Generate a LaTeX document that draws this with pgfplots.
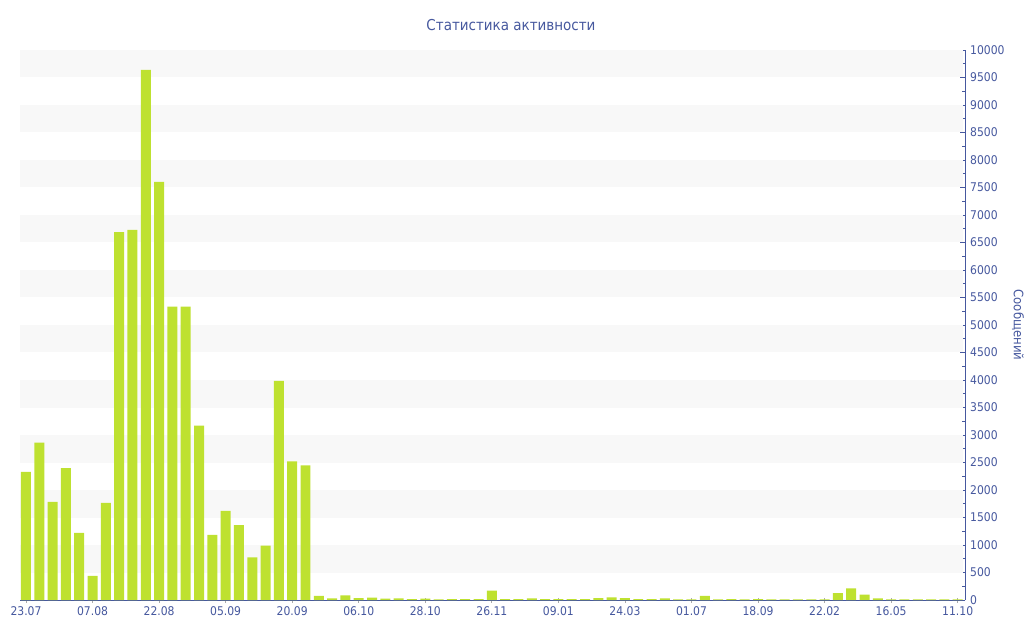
\documentclass[border=0pt]{standalone}
\usepackage{fontspec}
\setmainfont{DejaVu Sans Condensed}
\usepackage{pgfplots}
\pgfplotsset{compat=1.18}

\definecolor{barlime}{RGB}{190,225,48}
\definecolor{axisblue}{RGB}{70,88,158}
\definecolor{bandgray}{RGB}{248,248,248}
\definecolor{tickgray}{RGB}{170,170,170}

\begin{document}
\begin{tikzpicture}
    \useasboundingbox (0pt,0pt) rectangle (1024pt,640pt);
    % title and right-hand label
    \node[text=axisblue, font=\fontsize{15}{18}\selectfont] at (511pt,615pt) {Статистика активности};
    \node[text=axisblue, font=\fontsize{13}{15}\selectfont, rotate=-90] at (1018pt,315pt) {Сообщений};

    \begin{axis}[
        % Plot dimensions
        at               = {(20pt,40pt)},
        anchor           = south west,
        scale only axis,
        width            = 945pt,
        height           = 550pt,
        % Axes
        xmin = -0.45,
        xmax = 70.55,
        ymin = 0,
        ymax = 10000,
        axis x line* = bottom,
        axis y line* = right,
        axis line style = {axisblue, line width = 1pt},
        % Ticks
        xtick = {0,5,...,70},
        xticklabels = {23.07,07.08,22.08,05.09,20.09,06.10,28.10,26.11,09.01,24.03,01.07,18.09,22.02,16.05,11.10},
        ytick distance = 500,
        minor y tick num = 1,
        x tick style = {tickgray, line width = 0.8pt},
        y tick style = {axisblue, line width = 0.6pt},
        tick align = inside,
        major tick length = 5pt,
        minor tick length = 3pt,
        xtick align = center,
        tick label style = {text = axisblue, font = \fontsize{12}{14}\selectfont},
        xticklabel style = {inner sep = 0pt, yshift = -4pt},
        yticklabel style = {inner sep = 0pt, anchor = west, xshift = 5pt},
        /pgf/number format/assume math mode = true,
        /pgf/number format/set thousands separator = {},
        scaled y ticks = false,
        clip = false,
    ]

        % alternating background bands
        \pgfplotsinvokeforeach{500,1500,...,9500}{
            \fill[bandgray] (axis cs:-0.45,#1) rectangle (axis cs:70.4,#1+500);
        }

        % messages per week
        \addplot[
            ybar,
            bar width = 0.75,
            fill      = barlime,
            draw      = none,
        ] coordinates {
            (0, 2330) (1, 2860) (2, 1785) (3, 2400) (4, 1220)
            (5, 440)  (6, 1765) (7, 6690) (8, 6730) (9, 9640)
            (10, 7600) (11, 5335) (12, 5335) (13, 3170) (14, 1185)
            (15, 1620) (16, 1360) (17, 775)  (18, 990)  (19, 3985)
            (20, 2520) (21, 2450) (22, 75)   (23, 30)   (24, 85)
            (25, 36)  (26, 42)  (27, 24)  (28, 30)  (29, 18)
            (30, 24)  (31, 12)  (32, 18)  (33, 18)  (34, 18)
            (35, 170) (36, 18)  (37, 18)  (38, 30)  (39, 18)
            (40, 15)  (41, 15)  (42, 15)  (43, 36)  (44, 48)
            (45, 36)  (46, 18)  (47, 15)  (48, 30)  (49, 12)
            (50, 12)  (51, 73)  (52, 12)  (53, 15)  (54, 12)
            (55, 15)  (56, 12)  (57, 12)  (58, 12)  (59, 12)
            (60, 12)  (61, 127) (62, 212) (63, 97)  (64, 30)
            (65, 12)  (66, 12)  (67, 12)  (68, 12)  (69, 12)
            (70, 12)
        };
    \end{axis}
\end{tikzpicture}
\end{document}
